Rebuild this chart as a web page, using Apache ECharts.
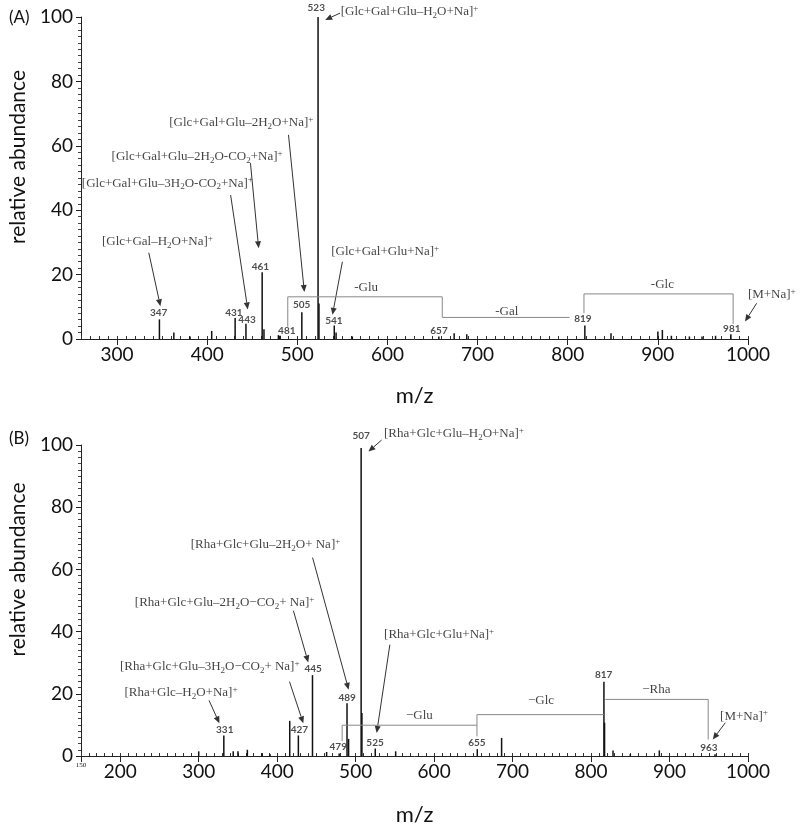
<!DOCTYPE html>
<html><head><meta charset="utf-8">
<script src="https://cdn.jsdelivr.net/npm/echarts@6/dist/echarts.min.js"></script>
<style>html,body{margin:0;padding:0;background:#fff}#c{width:800px;height:827px}</style>
</head><body><div id="c"></div>
<script>
// ---------- Panel A data ----------
const mzA  = [347, 363, 381, 405, 431, 443, 461, 463, 479, 481, 505, 523, 524, 541, 543, 561, 657, 674, 688, 819, 848, 900, 905, 915, 935, 949, 964, 981];
const intA = [6.1, 2.0, 0.8, 2.5, 6.5, 4.7, 20.7, 3.0, 1.2, 1.0, 8.3, 100, 11, 4.2, 2.0, 0.8, 0.8, 1.8, 1.5, 4.2, 1.8, 2.3, 2.8, 1.0, 0.8, 0.8, 1.0, 1.5];
const xTicksA = [300, 400, 500, 600, 700, 800, 900, 1000];
const peakLabelsA = [
  [521, 103, '523'], [459, 22.5, '461'], [346.2, 8, '347'], [429.6, 8, '431'], [444.2, 5.9, '443'],
  [488.3, 2.6, '481'], [504.8, 10.6, '505'], [540.5, 5.7, '541'], [657.2, 2.5, '657'],
  [816.9, 6.2, '819'], [982, 3.3, '981']
];
const annotA = [
  [624.5, 101.6, '[Glc+Gal+Glu–H{b|2}O+Na]{p|+}'],
  [437.8, 67.1, '[Glc+Gal+Glu–2H{b|2}O+Na]{p|+}'],
  [388.8, 56.5, '[Glc+Gal+Glu–2H{b|2}O-CO{b|2}+Na]{p|+}'],
  [355.8, 48.4, '[Glc+Gal+Glu–3H{b|2}O-CO{b|2}+Na]{p|+}'],
  [344.8, 30.2, '[Glc+Gal–H{b|2}O+Na]{p|+}'],
  [597.5, 27.1, '[Glc+Gal+Glu+Na]{p|+}'],
  [1026.4, 13.7, '[M+Na]{p|+}'],
  [576.4, 16.1, '-Glu'],
  [732.4, 8.5, '-Gal'],
  [905, 16.8, '-Glc']
];
const arrowsA = [
  [547.4, 101.2, 530.9, 99.1],
  [490.2, 63.4, 507.8, 14.6],
  [448, 54.6, 457.1, 28.2],
  [426, 44.7, 445, 9.2],
  [335.2, 26.8, 348.1, 10.2],
  [550, 24, 539, 7.5],
  [1009.6, 11.1, 996.7, 5.4]
];
const bracketsA = [
  [[489.4, 3.8], [489.4, 13.1], [660.8, 13.1], [660.8, 6.7]],
  [[660.8, 6.7], [802, 6.7]],
  [[818, 8], [818, 14], [983.5, 14], [983.5, 4.7]]
];

// ---------- Panel B data ----------
const mzB  = [300, 332, 344, 350, 362, 381, 391, 416, 427, 445, 463, 479, 489, 491, 507, 508, 525, 551, 655, 686, 816.4, 817.2, 828, 850, 887, 958];
const intB = [1.5, 6.6, 1.5, 1.5, 2.0, 0.9, 0.6, 11.3, 6.6, 26, 1.3, 0.8, 17, 5.5, 99, 13.8, 2.4, 1.5, 2.2, 5.8, 23.9, 10.7, 1.8, 0.6, 1.8, 0.6];
const xTicksB = [150, 200, 300, 400, 500, 600, 700, 800, 900, 1000];
const peakLabelsB = [
  [507.1, 103.1, '507'], [445.9, 28, '445'], [489.1, 18.7, '489'], [333.2, 8.4, '331'],
  [428.3, 8.4, '427'], [477.8, 3, '479'], [524.7, 4.3, '525'], [654.6, 4.3, '655'],
  [816, 26, '817'], [950.1, 2.7, '963']
];
const annotB = [
  [625.3, 103.6, '[Rha+Glc+Glu–H{b|2}O+Na]{p|+}'],
  [385.1, 67.9, '[Rha+Glc+Glu–2H{b|2}O+ Na]{p|+}'],
  [333, 49.3, '[Rha+Glc+Glu–2H{b|2}O−CO{b|2}+ Na]{p|+}'],
  [314.1, 28.6, '[Rha+Glc+Glu–3H{b|2}O−CO{b|2}+ Na]{p|+}'],
  [277.4, 20.3, '[Rha+Glc–H{b|2}O+Na]{p|+}'],
  [606.4, 38.9, '[Rha+Glc+Glu+Na]{p|+}'],
  [994.9, 12.7, '[M+Na]{p|+}'],
  [581.3, 13, '−Glu'],
  [736.3, 17.7, '−Glc'],
  [883.1, 21.3, '−Rha']
];
const arrowsB = [
  [533.1, 101.6, 516.3, 97.9],
  [445.1, 63.8, 491.1, 21.3],
  [420.7, 46.7, 439.6, 30.1],
  [415.7, 23.9, 433.3, 10.5],
  [313.1, 17.9, 326.4, 10.5],
  [543.6, 35.8, 526.8, 7.4],
  [971.1, 10.7, 955.1, 5.3]
];
const bracketsB = [
  [[482.8, 4.8], [482.8, 9.9], [654.6, 9.9]],
  [[654.6, 6.3], [654.6, 13.3], [816.1, 13.3]],
  [[818.1, 18.2], [949.3, 18.2], [949.3, 5.3]]
];

// ---------- build ----------
const SANS = 'Lato';
const SERIF = 'Liberation Serif';
const rich = {
  b: { fontSize: 9, fontFamily: SERIF, color: '#111', lineHeight: 9, verticalAlign: 'bottom' },
  p: { fontSize: 9, fontFamily: SERIF, color: '#111', lineHeight: 9, verticalAlign: 'top' }
};

function arrowItem(params, api) {
  const a = api.coord([api.value(0), api.value(1)]);
  const b = api.coord([api.value(2), api.value(3)]);
  const dx = b[0] - a[0], dy = b[1] - a[1], L = Math.hypot(dx, dy) || 1;
  const ux = dx / L, uy = dy / L, h = 7, w = 3;
  const bx = b[0] - ux * h, by = b[1] - uy * h;
  return { type: 'group', children: [
    { type: 'line', shape: { x1: a[0], y1: a[1], x2: bx, y2: by }, style: { stroke: '#333', lineWidth: 1 } },
    { type: 'polygon', shape: { points: [[b[0], b[1]], [bx - uy * w, by + ux * w], [bx + uy * w, by - ux * w]] }, style: { fill: '#333' } }
  ]};
}

function panel(i, mz, inten, labels, annots, arrows, brackets) {
  const xi = i * 2, yi = i;
  const s = [];
  s.push({ type: 'bar', xAxisIndex: xi, yAxisIndex: yi, barWidth: 1.5, silent: true,
    itemStyle: { color: '#111' }, data: mz.map((m, k) => [m, inten[k]]) });
  brackets.forEach(br => s.push({ type: 'line', xAxisIndex: xi, yAxisIndex: yi, symbol: 'none', silent: true,
    lineStyle: { color: '#888', width: 1 }, data: br }));
  s.push({ type: 'custom', xAxisIndex: xi, yAxisIndex: yi, clip: false, silent: true,
    renderItem: arrowItem, encode: { x: [0, 2], y: [1, 3] }, data: arrows });
  s.push({ type: 'scatter', xAxisIndex: xi, yAxisIndex: yi, clip: false, silent: true, symbolSize: 0,
    data: labels.map(l => ({ value: [l[0], l[1]], name: l[2] })),
    label: { show: true, position: 'inside', formatter: p => p.name, fontFamily: SANS, fontWeight: 'bold',
      fontSize: 10, color: '#222' } });
  s.push({ type: 'scatter', xAxisIndex: xi, yAxisIndex: yi, clip: false, silent: true, symbolSize: 0,
    data: annots.map(l => ({ value: [l[0], l[1]], name: l[2] })),
    label: { show: true, position: 'inside', formatter: p => p.name, fontFamily: SERIF,
      fontSize: 13, lineHeight: 16, color: '#111', rich: rich } });
  return s;
}

function xAxes(grid, min, max, ticks, gap) {
  return [
    { type: 'value', gridIndex: grid, min: min, max: max, position: 'bottom',
      axisLine: { lineStyle: { color: '#222', width: 1 } },
      axisTick: { customValues: ticks, length: 6, lineStyle: { color: '#222' } },
      axisLabel: { customValues: ticks, fontSize: 19, fontFamily: SANS, color: '#111', margin: 6,
        formatter: v => v === 150 ? '{s|150}' : String(v),
        rich: { s: { fontSize: 7, fontFamily: SERIF, color: '#111', padding: [0, 0, 8, 0] } } },
      splitLine: { show: false },
      name: 'm/z', nameLocation: 'middle', nameGap: gap,
      nameTextStyle: { fontSize: 22, fontFamily: SANS, color: '#111' } },
    { type: 'value', gridIndex: grid, min: min, max: max, interval: 10, position: 'bottom',
      axisLine: { show: false },
      axisTick: { show: true, inside: true, length: 3, lineStyle: { color: '#333' } },
      axisLabel: { show: false }, splitLine: { show: false } }
  ];
}
function yAxis(grid, shift) {
  return { type: 'value', gridIndex: grid, min: 0, max: 100, interval: 20,
    axisLine: { show: true, lineStyle: { color: '#222' } },
    axisTick: { show: true, length: 5, lineStyle: { color: '#222' } },
    minorTick: { show: true, splitNumber: 10, length: 3, lineStyle: { color: '#444' } },
    axisLabel: { fontSize: 19, fontFamily: SANS, color: '#111', margin: 8 },
    splitLine: { show: false },
    name: 'relative abundance', nameLocation: 'middle', nameGap: 52,
    nameTextStyle: { fontSize: 21, fontFamily: SANS, color: '#111', padding: [0, 0, 0, shift] } };
}

const option = {
  backgroundColor: '#fff',
  animation: false,
  title: [
    { text: '(A)', left: 4, top: 4, textStyle: { fontSize: 17, fontWeight: 'normal', fontFamily: SANS, color: '#111' } },
    { text: '(B)', left: 4, top: 425, textStyle: { fontSize: 17, fontWeight: 'normal', fontFamily: SANS, color: '#111' } }
  ],
  grid: [
    { left: 76, right: 52, top: 17, height: 322 },
    { left: 72, right: 52, top: 445, height: 322 }
  ],
  xAxis: [
    ...xAxes(0, 260, 1000, xTicksA, 46),
    ...xAxes(1, 150, 1000, xTicksB, 48)
  ],
  yAxis: [yAxis(0, 42), yAxis(1, 62)],
  series: [
    ...panel(0, mzA, intA, peakLabelsA, annotA, arrowsA, bracketsA),
    ...panel(1, mzB, intB, peakLabelsB, annotB, arrowsB, bracketsB)
  ]
};
const chart = echarts.init(document.getElementById('c'), null, { renderer: 'canvas' });
chart.setOption(option);
</script>
</body></html>
